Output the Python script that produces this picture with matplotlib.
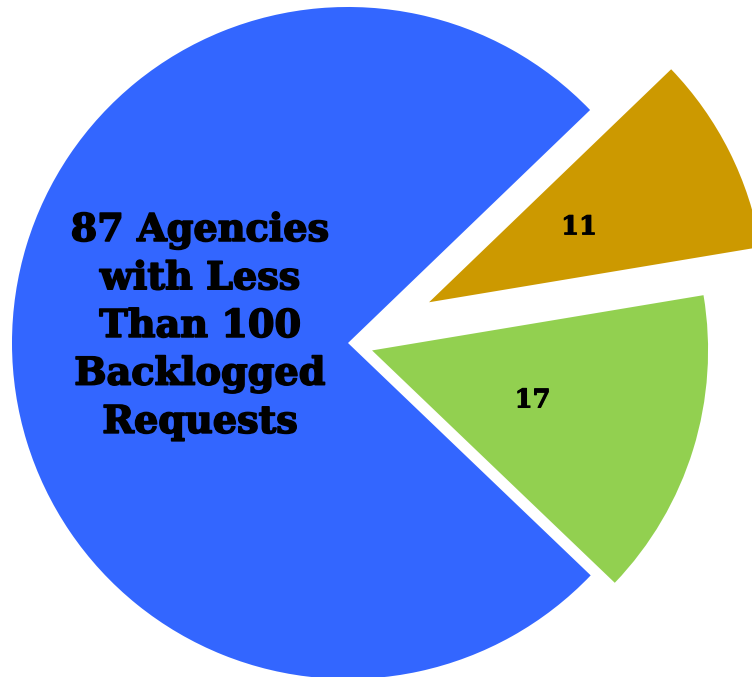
import matplotlib
matplotlib.use("Agg")
import matplotlib.pyplot as plt
import matplotlib.patheffects as pe

# agencies grouped by backlog size
groups = ["Less than 100", "100 to 999", "1000 or more"]
counts = [87, 17, 11]
colors = ["#3366FF", "#92D050", "#CC9900"]
explode = [0, 0.075, 0.27]
main_label = "87 Agencies\nwith Less\nThan 100\nBacklogged\nRequests"

total = sum(counts)


def show_count(pct):
    n = int(round(pct * total / 100.0))
    return "" if n == counts[0] else str(n)


fig = plt.figure(figsize=(7.52, 6.77), dpi=100)
ax = fig.add_axes([0, 0, 1, 1])

wedges, texts, autotexts = ax.pie(
    counts,
    colors=colors,
    explode=explode,
    startangle=43.9,
    labels=[main_label, "", ""],
    labeldistance=0.44,
    autopct=show_count,
    pctdistance=0.5,
    wedgeprops={"linewidth": 0},
    textprops={"family": "DejaVu Serif", "weight": "bold", "color": "black"},
)

heavy = [pe.withStroke(linewidth=1.2, foreground="black")]

texts[0].set_fontsize(27.5)
texts[0].set_ha("center")
texts[0].set_va("center")
texts[0].set_multialignment("center")
texts[0].set_linespacing(1.37)
texts[0].set_path_effects(heavy)
x0, y0 = texts[0].get_position()
texts[0].set_position((x0, y0 + 0.05))

for t in autotexts:
    t.set_fontsize(18.5)
    t.set_path_effects([pe.withStroke(linewidth=0.8, foreground="black")])

# view clipped like the original graphic
ax.set_xlim(-1.0357, 1.2024)
ax.set_ylim(-0.994, 1.0208)
ax.set_aspect("auto")
ax.axis("off")

fig.savefig("out.png", dpi=100)
